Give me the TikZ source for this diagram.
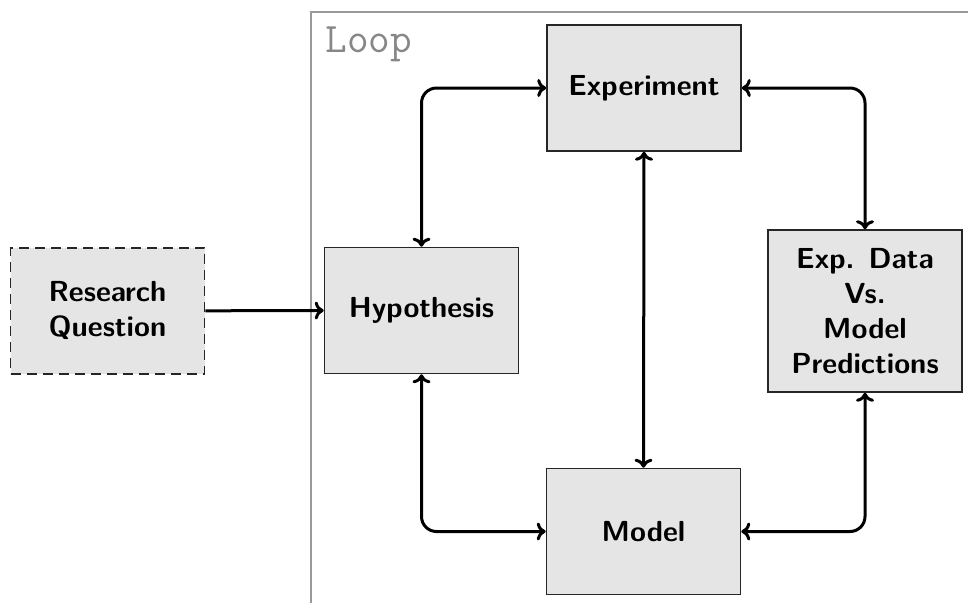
\documentclass[tikz,border=0pt]{standalone}
\usetikzlibrary{arrows.meta}
\begin{document}
\begin{tikzpicture}[
  x=0.5pt, y=-0.5pt,
  >={To[length=4.5pt,width=9pt]},
  box/.style={draw=black!85, line width=0.8pt, fill=black!10,
    minimum width=97pt, minimum height=63pt, inner sep=0pt, align=center,
    font=\fontsize{14.5}{17.5}\selectfont\sffamily\bfseries},
  link/.style={line width=1.5pt, rounded corners=7.5pt},
  frame/.style={draw=black!40, line width=0.8pt},
  framelabel/.style={anchor=base west, text=black!47, inner sep=0pt,
    font=\fontsize{21}{21}\selectfont\ttfamily}
]
\useasboundingbox (0,0) rectangle (968,602);

% loop frame (runs past the page on the right and at the bottom)
\draw[frame] (311,12) rectangle (1010,650);
\node[framelabel] (looplabel) at (325,52) {Loop};

% boxes
\node[box, dash pattern=on 5pt off 3pt] (rq) at (107.5,310.8) {Research\\Question};
\node[box] (hyp) at (421.5,310.5) {Hypothesis};
\node[box] (exp) at (644,88) {Experiment};
\node[box] (model) at (643.5,531.5) {Model};
\node[box, minimum height=81pt] (data) at (865,311) {Exp. Data\\Vs.\\Model\\Predictions};

% connectors
\draw[link,->] (rq.east) -- (hyp.west);
\draw[link,<->] (hyp.north) |- (exp.west);
\draw[link,<->] (exp.east) -| (data.north);
\draw[link,<->] (exp.south) -- (model.north);
\draw[link,<->] (hyp.south) |- (model.west);
\draw[link,<->] (data.south) |- (model.east);
\end{tikzpicture}
\end{document}
